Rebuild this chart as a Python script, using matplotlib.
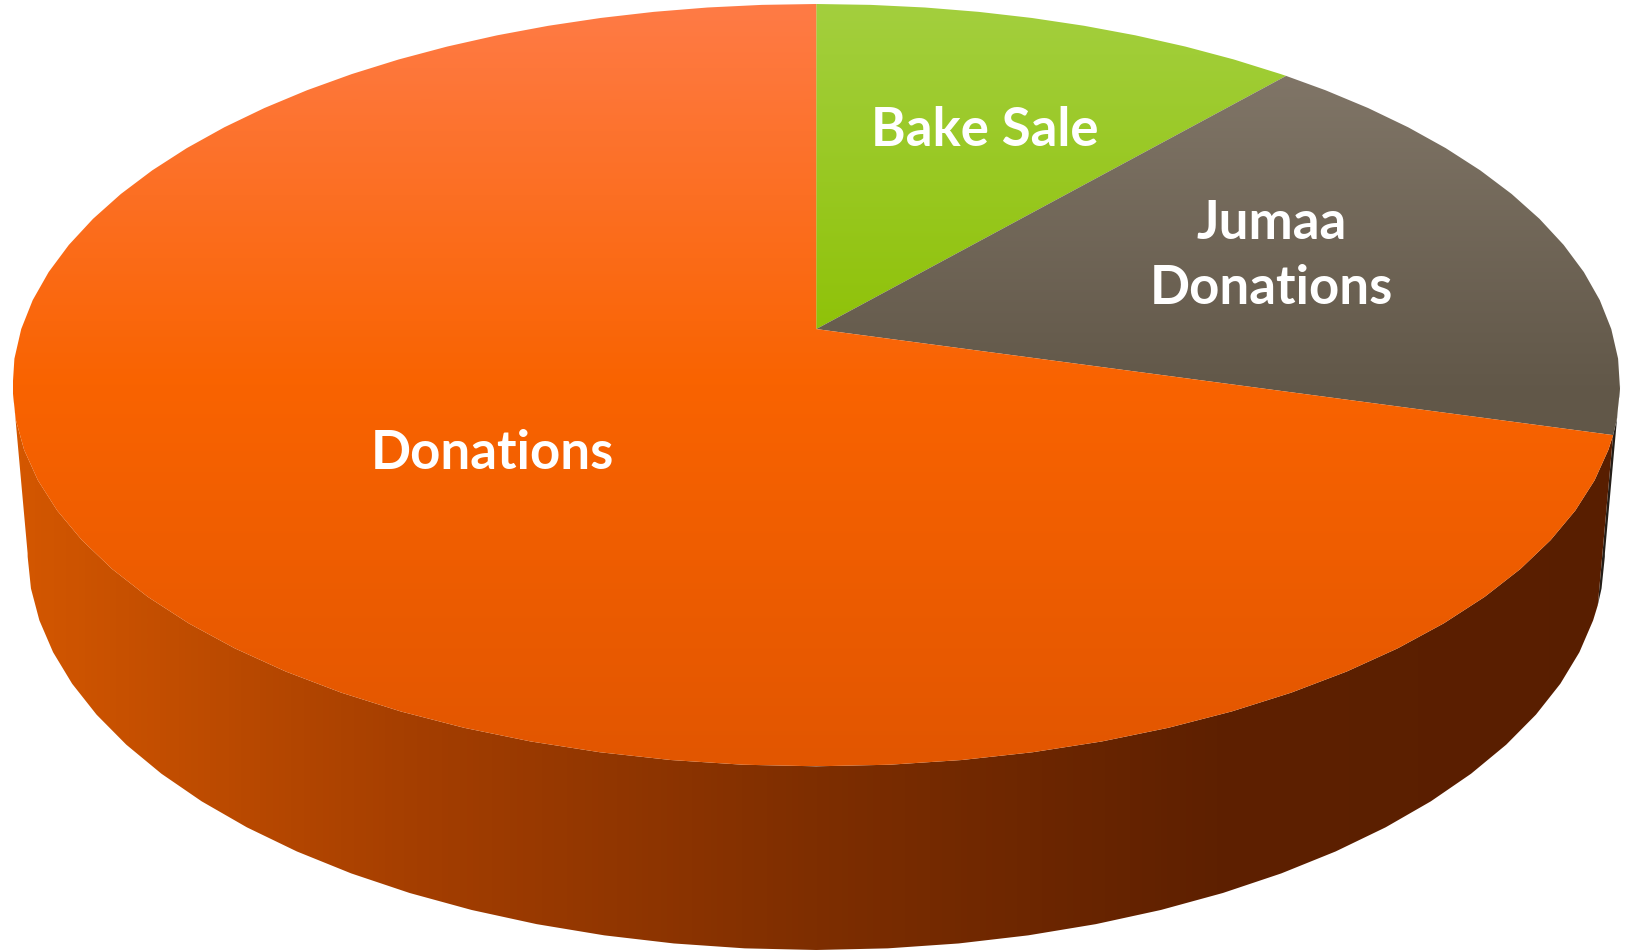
"""3D pie chart: sources of funds (Bake Sale / Jumaa Donations / Donations)."""

import matplotlib

matplotlib.use("Agg")

import matplotlib.pyplot as plt
import numpy as np
from matplotlib.colors import LinearSegmentedColormap
from matplotlib.patches import Polygon

# data
labels = ["Bake Sale", "Jumaa\nDonations", "Donations"]
values = [11.4, 18.0, 70.6]

# styles: top-face gradient (top -> front), side gradient (left -> right)
top_colors = [
    ["#A3CF3E", "#8CC000", "#84B600"],
    ["#877C6E", "#625849", "#5A5042"],
    ["#FF7B46", "#F96300", "#E25600"],
]
side_colors = [
    ["#5A7A00", "#3E5600"],
    ["#2E2720", "#241E18"],
    ["#D45700", "#A43E00", "#7E2E00", "#5E2000", "#581E00"],
]
label_radius = [0.62, 0.62, 0.5]
label_nudge = [(7, 0), (-4, 7), (6, -4)]  # points

ELEV = np.radians(28)
DIST = 6.0
THICK = 0.24
START = 90.0
STEP = 4.5  # Excel draws the rim as a polygon
W, H = 1630, 953


def project(theta_deg, h, r=1.0):
    th = np.radians(np.atleast_1d(theta_deg).astype(float))
    X = r * np.cos(th)
    Z = -r * np.sin(th)
    yp = h * np.cos(ELEV) - Z * np.sin(ELEV)
    zp = h * np.sin(ELEV) + Z * np.cos(ELEV)
    s = DIST / (DIST - zp)
    return X * s, yp * s


def arc(t1, t2, h):
    lo, hi = min(t1, t2), max(t1, t2)
    inner = np.arange(np.ceil(lo / STEP) * STEP, hi, STEP)
    t = np.unique(np.r_[lo, inner[inner > lo], hi])
    if t1 > t2:
        t = t[::-1]
    return project(t, h)


fig = plt.figure(figsize=(W / 100, H / 100), dpi=100)
ax = fig.add_axes([0, 0, 1, 1])
ax.axis("off")

frac = np.array(values) / sum(values) * 360
bounds = START - np.concatenate([[0], np.cumsum(frac)])

# outer wall runs between the left/right extremes of the top face
fine = np.linspace(-270, 90, 3601)
fx, _ = project(fine, 0)
vis = (fine[np.argmin(fx)], fine[np.argmax(fx)])

# fit the drawing into the pixel box of the reference
tx, ty = arc(-270, 90, 0)
bx, by = arc(vis[0], vis[1], -THICK)
xmin, xmax = min(tx.min(), bx.min()), max(tx.max(), bx.max())
ymin, ymax = min(ty.min(), by.min()), max(ty.max(), by.max())
kx = (1620 - 12.5) / (xmax - xmin)
ky = (951 - 5) / (ymax - ymin)
x0 = xmin - 12.5 / kx
y1 = ymax + 5 / ky
ax.set_xlim(x0, x0 + W / kx)
ax.set_ylim(y1 - H / ky, y1)

grad_v = np.linspace(1, 0, 256)[:, None]
grad_h = np.linspace(0, 1, 256)[None, :]

for i, lab in enumerate(labels):
    t1, t2 = bounds[i], bounds[i + 1]

    # outer wall
    side_cmap = LinearSegmentedColormap.from_list(f"s{i}", side_colors[i])
    for k in (-1, 0, 1):
        lo = max(t2, vis[0] + 360 * k)
        hi = min(t1, vis[1] + 360 * k)
        if hi <= lo:
            continue
        ux, uy = arc(hi, lo, 0)
        lx, ly = arc(lo, hi, -THICK)
        poly = Polygon(np.column_stack([np.r_[ux, lx], np.r_[uy, ly]]),
                       closed=True, facecolor="none", edgecolor="none")
        ax.add_patch(poly)
        im = ax.imshow(grad_h, cmap=side_cmap, aspect="auto", origin="lower",
                       extent=(xmin, xmax, ymin, ymax), zorder=1,
                       interpolation="bilinear")
        im.set_clip_path(poly)

    # top face
    top_cmap = LinearSegmentedColormap.from_list(f"t{i}", top_colors[i])
    ex, ey = arc(t1, t2, 0)
    poly = Polygon(np.column_stack([np.r_[0, ex], np.r_[0, ey]]),
                   closed=True, facecolor="none", edgecolor="none")
    ax.add_patch(poly)
    im = ax.imshow(grad_v, cmap=top_cmap, aspect="auto", origin="lower",
                   extent=(tx.min(), tx.max(), ty.min(), ty.max()), zorder=2,
                   interpolation="bilinear")
    im.set_clip_path(poly)

    # label
    mid = (t1 + t2) / 2
    lx, ly = project(mid, 0, label_radius[i])
    ax.annotate(lab, (lx[0], ly[0]), xytext=label_nudge[i],
                textcoords="offset points", ha="center", va="center",
                color="white", fontsize=38, fontweight="bold", family="Lato",
                linespacing=1.4, zorder=3)

fig.savefig("out.png", dpi=100, facecolor="white")
